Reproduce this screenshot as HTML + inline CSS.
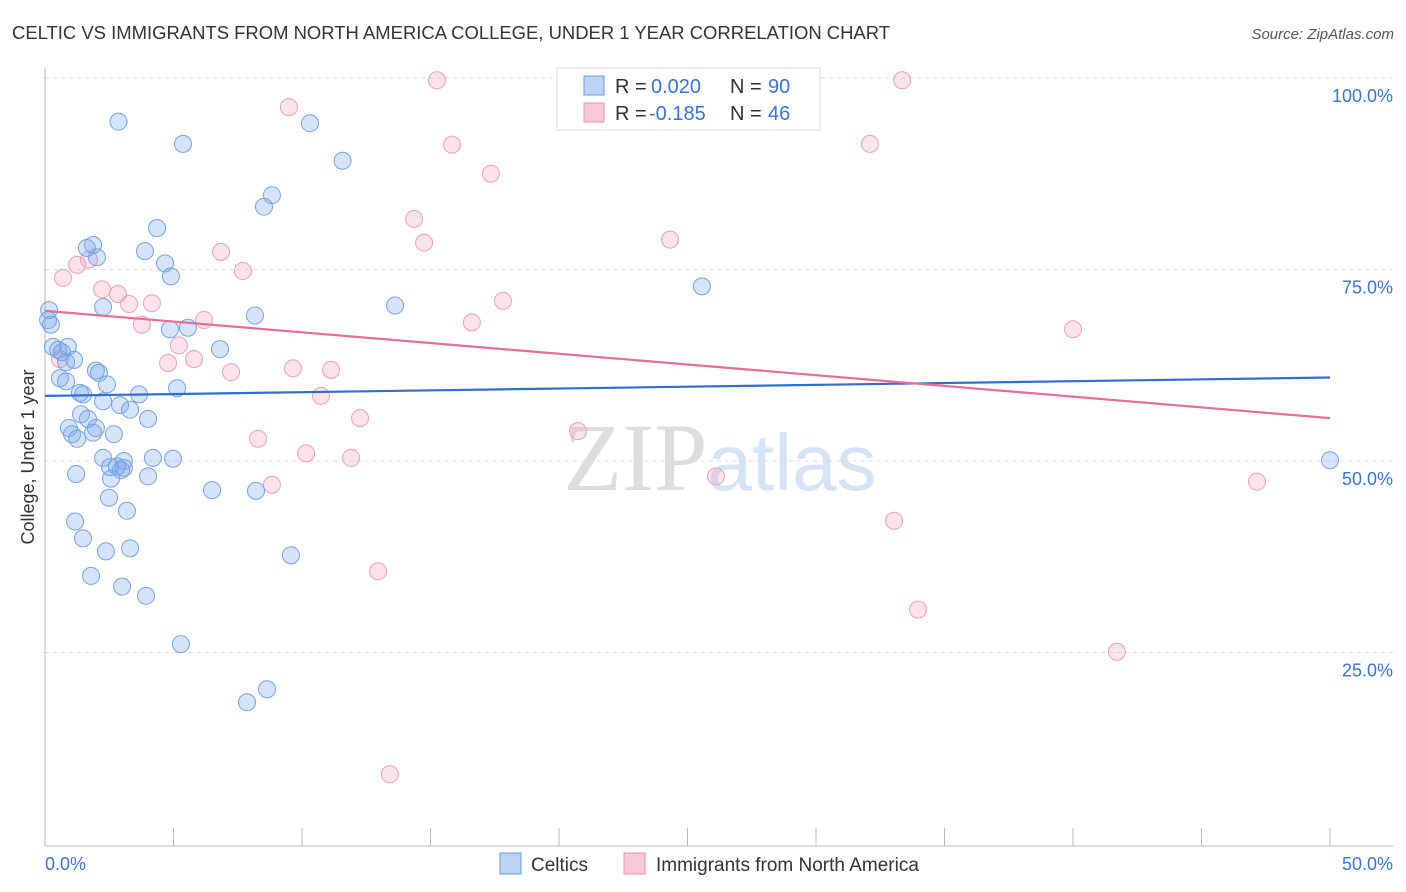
<!DOCTYPE html>
<html><head><meta charset="utf-8">
<style>
body{margin:0;background:#fff;font-family:"Liberation Sans",sans-serif;}
#wrap{position:relative;width:1406px;height:892px;overflow:hidden;}
</style></head>
<body>
<div id="wrap">
<svg id="chart" width="1406" height="892" xmlns="http://www.w3.org/2000/svg">
<text x="12" y="39" font-size="18" fill="#333" textLength="878" lengthAdjust="spacingAndGlyphs">CELTIC VS IMMIGRANTS FROM NORTH AMERICA COLLEGE, UNDER 1 YEAR CORRELATION CHART</text>
<text x="1394" y="39" font-size="15" fill="#555" font-style="italic" text-anchor="end">Source: ZipAtlas.com</text>
<text x="720" y="490" font-size="96" fill="#ddd" text-anchor="middle" font-family="Liberation Serif, serif">ZIP<tspan fill="#d6e3f5" font-family="Liberation Sans, sans-serif" font-size="80">atlas</tspan></text>
<text transform="translate(34,457) rotate(-90)" font-size="18" fill="#333" text-anchor="middle">College, Under 1 year</text>
<g id="grid"></g><g id="ticks"></g><g id="pts"></g><g id="trend"></g>
<g>
<rect x="557" y="68" width="263" height="62" fill="#fff" stroke="#ddd"/>
<rect x="584" y="76" width="20" height="19" fill="#bcd3f5" stroke="#6a9be0"/>
<rect x="584" y="103" width="20" height="19" fill="#f9c9d8" stroke="#e890b0"/>
<text x="615" y="93" font-size="20" fill="#333">R =</text>
<text x="651" y="93" font-size="20" fill="#3a74d0">0.020</text>
<text x="730" y="93" font-size="20" fill="#333">N =</text>
<text x="768" y="93" font-size="20" fill="#3a74d0">90</text>
<text x="615" y="120" font-size="20" fill="#333">R =</text>
<text x="649" y="120" font-size="20" fill="#3a74d0">-0.185</text>
<text x="730" y="120" font-size="20" fill="#333">N =</text>
<text x="768" y="120" font-size="20" fill="#3a74d0">46</text>
</g>
<g>
<rect x="500" y="853" width="21" height="21" fill="#bcd3f5" stroke="#6a9be0"/>
<text x="531" y="871" font-size="19" fill="#333">Celtics</text>
<rect x="624" y="853" width="21" height="21" fill="#f9c9d8" stroke="#e890b0"/>
<text x="656" y="871" font-size="19" fill="#333">Immigrants from North America</text>
</g>
<text x="45" y="870" font-size="18" fill="#3a74d0">0.0%</text>
<text x="1393" y="870" font-size="18" fill="#3a74d0" text-anchor="end">50.0%</text>
</svg>
</div>
<script>
const yTicks=[25,50,75,100];
const yTickLabels=["25.0%","50.0%","75.0%","100.0%"];
const blueX=[2.86,5.37,10.31,11.58,8.83,8.52,4.36,1.87,1.63,2.02,3.89,4.67,4.90,2.26,0.16,8.17,13.62,25.56,0.12,0.23,4.86,5.56,6.81,0.31,0.51,0.89,0.66,1.13,0.82,1.98,2.10,0.58,0.82,2.41,5.14,1.36,1.48,3.66,2.26,2.92,3.31,1.40,1.67,4.01,0.93,1.98,1.05,1.25,1.87,2.68,2.26,3.07,4.20,4.98,2.53,2.80,2.96,3.07,1.21,2.57,4.01,6.50,8.21,2.49,3.19,1.17,1.48,2.37,3.31,9.57,1.79,3.00,3.93,5.29,8.64,7.86,50.0];
const blueY=[94.3,91.4,94.1,89.2,84.7,83.2,80.4,78.2,77.8,76.6,77.4,75.8,74.1,70.1,69.7,69.0,70.3,72.8,68.4,67.8,67.2,67.4,64.6,64.9,64.5,64.9,64.2,63.2,62.9,61.8,61.5,60.8,60.4,60.0,59.5,58.9,58.7,58.7,57.8,57.3,56.7,56.1,55.5,55.5,54.3,54.3,53.5,52.9,53.7,53.5,50.4,50.0,50.4,50.3,49.2,49.3,48.8,49.1,48.3,47.7,48.0,46.2,46.1,45.2,43.5,42.1,39.9,38.2,38.6,37.7,35.0,33.6,32.4,26.1,20.2,18.5,50.1];
const pinkX=[15.25,33.35,9.49,15.84,32.10,17.35,14.36,14.75,24.32,6.85,7.70,1.25,1.71,0.70,2.84,3.27,4.16,2.22,17.82,3.77,6.19,16.61,40.00,5.21,5.80,4.79,7.24,9.65,11.13,10.74,12.26,20.74,8.29,10.16,11.91,8.83,26.11,47.16,33.04,12.96,33.97,41.71,13.42,0.58];
const pinkY=[99.7,99.7,96.2,91.3,91.4,87.5,81.6,78.5,78.9,77.3,74.8,75.6,76.3,73.9,71.8,70.5,70.6,72.4,70.9,67.8,68.4,68.1,67.2,65.1,63.3,62.8,61.6,62.1,61.9,58.5,55.6,53.9,52.9,51.0,50.4,46.9,48.0,47.3,42.2,35.6,30.6,25.1,9.1,63.3];
const blueTrend=[58.5,60.9];
const pinkTrend=[69.6,55.6];
const NS="http://www.w3.org/2000/svg";
const X=v=>45+v*25.7, Y=v=>461-(v-50)*7.66;
const g=document.getElementById('grid'),tk=document.getElementById('ticks'),pg=document.getElementById('pts'),tg=document.getElementById('trend');
function mk(tag,attrs,parent){const e=document.createElementNS(NS,tag);for(const k in attrs)e.setAttribute(k,attrs[k]);parent.appendChild(e);return e;}
yTicks.forEach((t,i)=>{
 const l=mk('line',{x1:45,x2:1393,y1:Y(t),y2:Y(t),stroke:'#ddd','stroke-dasharray':'4,4'},g);
 
 
 const tx=mk('text',{x:1393,y:Y(t)+24,'font-size':18,fill:'#3a74d0','text-anchor':'end'},g);
 tx.textContent=yTickLabels[i];
 
 
});
mk('line',{x1:45,x2:45,y1:68,y2:846,stroke:'#bbb'},tk);
mk('line',{x1:45,x2:1393,y1:846,y2:846,stroke:'#bbb'},tk);
for(let i=0;i<=10;i++){mk('line',{x1:X(i*5),x2:X(i*5),y1:828,y2:846,stroke:'#bbb'},tk);}
function dots(xs,ys,fill,stroke,name){xs.forEach((x,i)=>{
 const c=mk('circle',{cx:X(x),cy:Y(ys[i]),r:8.5,fill:fill,stroke:stroke,'stroke-width':1},pg);
 
 
});}
dots(pinkX,pinkY,'rgba(244,160,190,0.3)','#eba0bc','immigrants-point');
dots(blueX,blueY,'rgba(120,165,235,0.3)','#77a3e3','celtics-point');
const b=mk('line',{x1:X(0),x2:X(50),y1:Y(blueTrend[0]),y2:Y(blueTrend[1]),stroke:'#2f6fd0','stroke-width':2.2},tg);


const p=mk('line',{x1:X(0),x2:X(50),y1:Y(pinkTrend[0]),y2:Y(pinkTrend[1]),stroke:'#e66d98','stroke-width':2.2},tg);


</script>
</body></html>
